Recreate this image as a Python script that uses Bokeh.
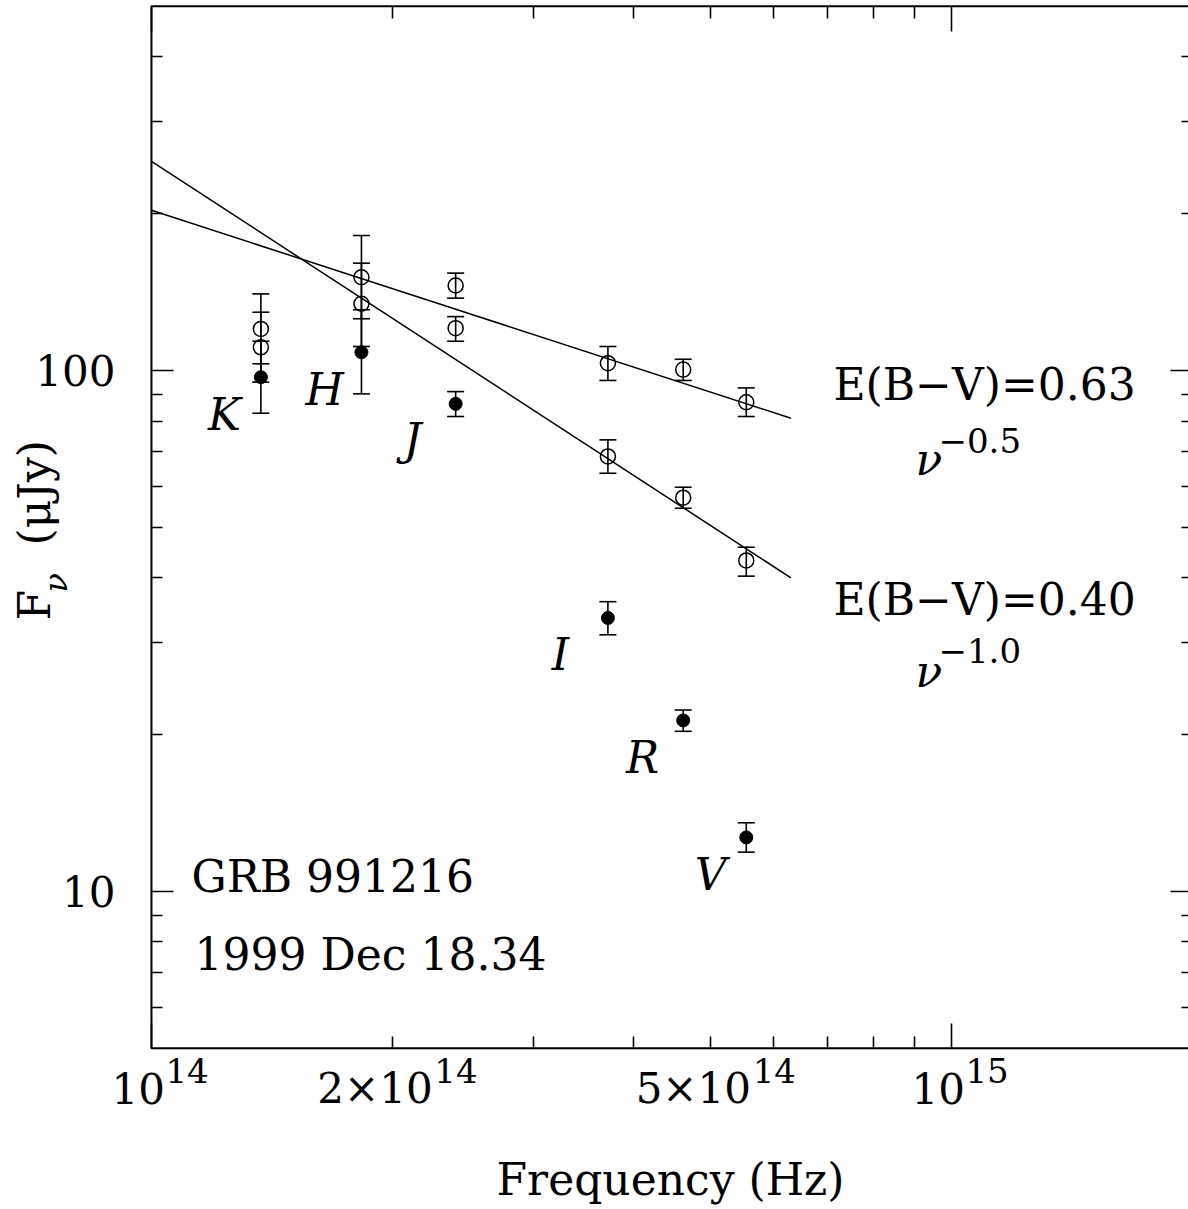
from bokeh.plotting import figure
from bokeh.models import (ColumnDataSource, Whisker, TeeHead, Label, LogAxis,
                          FixedTicker, BoxAnnotation)
from bokeh.embed import file_html
from bokeh.resources import INLINE

# ---------------- data ----------------
bands = ["K", "H", "J", "I", "R", "V"]
freq_hz = [1.37e14, 1.83e14, 2.40e14, 3.72e14, 4.62e14, 5.54e14]

# observed fluxes (filled circles), micro-Jy
obs_flux = [97.1, 108.4, 86.3, 33.5, 21.3, 12.7]
obs_lo = [82.8, 90.2, 81.6, 31.1, 20.3, 11.9]
obs_hi = [113.8, 130.8, 91.1, 36.0, 22.3, 13.55]

# de-reddened, E(B-V)=0.63 (open circles, upper set)
ebv063_flux = [120.2, 151.0, 145.6, 103.3, 100.4, 86.9]
ebv063_lo = [103.0, 125.7, 137.7, 95.7, 95.7, 81.6]
ebv063_hi = [140.3, 181.6, 153.8, 111.2, 105.1, 92.6]

# de-reddened, E(B-V)=0.40 (open circles, lower set)
ebv040_flux = [110.8, 134.3, 120.6, 68.4, 57.0, 43.2]
ebv040_lo = [95.0, 111.2, 113.8, 63.5, 54.4, 40.3]
ebv040_hi = [129.4, 160.7, 126.9, 73.6, 59.7, 45.8]

# power-law fits (end points)
fit_freq = [1.0e14, 6.3e14]
fit_ebv063 = [203.0, 81.0]   # nu^-0.5
fit_ebv040 = [252.0, 40.0]   # nu^-1.0

# axis box and ticks
x_box = [1e14, 2e15]
y_box = [5, 500]
x_tick_values = [1e14, 2e14, 5e14, 1e15]
x_tick_mantissa = ["10", "2\u00d710", "5\u00d710", "10"]
x_tick_exponent = ["14", "14", "14", "15"]
x_major = [1e14, 1e15]
x_minor = [2e14, 3e14, 4e14, 5e14, 6e14, 7e14, 8e14, 9e14, 2e15]
y_tick_values = [10, 100]
y_tick_labels = ["10", "100"]
y_minor = [6, 7, 8, 9, 20, 30, 40, 50, 60, 70, 80, 90, 200, 300, 400]

# ---------------- layout / style ----------------
W, H = 1188, 1209
FONT = "DejaVu Serif"
# view ranges chosen so the axis box sits where the reference has it
X_VIEW = (6.4754e13, 1.9783e15)
Y_VIEW = (2.4527, 513.1)
BASE_SHIFT = 0.36  # correction (in em) so the anchor lands on the baseline

band_label_pos = {  # (freq, flux) anchor of each band letter
    "K": (1.234e14, 76.7), "H": (1.646e14, 85.7), "J": (2.12e14, 68.7),
    "I": (3.246e14, 26.6), "R": (4.11e14, 16.85), "V": (5.0e14, 10.04),
}

p = figure(width=W, height=H, x_axis_type="log", y_axis_type="log",
           x_axis_location=None, y_axis_location=None,
           x_range=X_VIEW, y_range=Y_VIEW,
           output_backend="svg", toolbar_location=None,
           min_border=0, min_border_left=0, min_border_right=0,
           min_border_top=0, min_border_bottom=0)
p.grid.visible = False
p.outline_line_color = None
p.background_fill_color = "white"
p.border_fill_color = "white"


def tick_axis(side, loc, ticks, length):
    ax = LogAxis(fixed_location=loc,
                 ticker=FixedTicker(ticks=[], minor_ticks=ticks),
                 minor_tick_in=length, minor_tick_out=0,
                 major_tick_in=0, major_tick_out=0,
                 minor_tick_line_width=1.6, minor_tick_line_color="black",
                 axis_line_color=None, major_label_standoff=0)
    p.add_layout(ax, side)


tick_axis("below", y_box[0], x_minor, 12)
tick_axis("below", y_box[0], x_major, 25)
tick_axis("above", y_box[1], x_minor, 12)
tick_axis("above", y_box[1], x_major, 25)
tick_axis("left", x_box[0], y_minor, 11)
tick_axis("left", x_box[0], y_tick_values, 22)
tick_axis("right", x_box[1], y_minor, 11)
tick_axis("right", x_box[1], y_tick_values, 22)

p.add_layout(BoxAnnotation(left=x_box[0], right=x_box[1], bottom=y_box[0],
                           top=y_box[1], fill_color=None, fill_alpha=0,
                           line_color="black", line_alpha=1.0, line_width=2))

# ---------------- fit lines ----------------
p.line(fit_freq, fit_ebv063, line_color="black", line_width=1.5)
p.line(fit_freq, fit_ebv040, line_color="black", line_width=1.5)

# ---------------- error bars and points ----------------
for flux, lo, hi, filled in [(obs_flux, obs_lo, obs_hi, True),
                             (ebv063_flux, ebv063_lo, ebv063_hi, False),
                             (ebv040_flux, ebv040_lo, ebv040_hi, False)]:
    src = ColumnDataSource(dict(x=freq_hz, y=flux, lo=lo, hi=hi))
    w = Whisker(source=src, base="x", upper="hi", lower="lo",
                line_color="black", line_width=1.6,
                upper_head=TeeHead(size=17, line_color="black", line_width=1.6),
                lower_head=TeeHead(size=17, line_color="black", line_width=1.6))
    p.add_layout(w)
    if filled:
        p.scatter("x", "y", source=src, marker="circle", size=13,
                  fill_color="black", line_color="black", line_width=1)
    else:
        p.scatter("x", "y", source=src, marker="circle", size=15,
                  fill_color=None, line_color="black", line_width=1.5)

# ---------------- texts ----------------
def label(x, y, text, size=44, style="normal", angle=0, align="left",
          xu="screen", yu="screen", dx=0, dy=0):
    if angle == 0:
        dy += BASE_SHIFT * size
    else:
        dx -= BASE_SHIFT * size
    p.add_layout(Label(x=x, y=y, x_units=xu, y_units=yu, x_offset=dx,
                       y_offset=dy, text=text, text_font=FONT,
                       text_font_size=f"{size}px", text_font_style=style,
                       text_align=align, text_baseline="alphabetic",
                       text_color="black", angle=angle, angle_units="deg"))


for b in bands:
    bx, by = band_label_pos[b]
    label(bx, by, b, style="italic", align="center", xu="data", yu="data")

label(191, H - 892, "GRB 991216")
label(194, H - 970, "1999 Dec 18.34")
label(833, H - 400, "E(B\u2212V)=0.63")
label(915, H - 475, "\u03bd", style="italic")
label(938, H - 452, "\u22120.5", size=34)
label(833, H - 615, "E(B\u2212V)=0.40")
label(915, H - 687, "\u03bd", style="italic")
label(938, H - 662, "\u22121.0", size=34)

# y tick labels
for val, txt in zip(y_tick_values, y_tick_labels):
    label(115, val, txt, size=42, align="right", yu="data", dy=-15)

# x tick labels (mantissa + superscript exponent)
base_offset = {"10": -40, "2\u00d710": -75, "5\u00d710": -75}
sup_offset = {"10": 14, "2\u00d710": 42, "5\u00d710": 42}
for val, man, ex in zip(x_tick_values, x_tick_mantissa, x_tick_exponent):
    label(val, H - 1103, man, size=42, xu="data", dx=base_offset[man])
    label(val, H - 1082, ex, size=34, xu="data", dx=sup_offset[man])

# axis titles
label(670, H - 1195, "Frequency (Hz)", size=44, align="center")
label(50, H - 620, "F", size=44, angle=90)
label(67, H - 592, "\u03bd", size=32, style="italic", angle=90)
label(50, H - 545, "(\u03bcJy)", size=44, angle=90)

open("out.html", "w").write(file_html(p, INLINE))
